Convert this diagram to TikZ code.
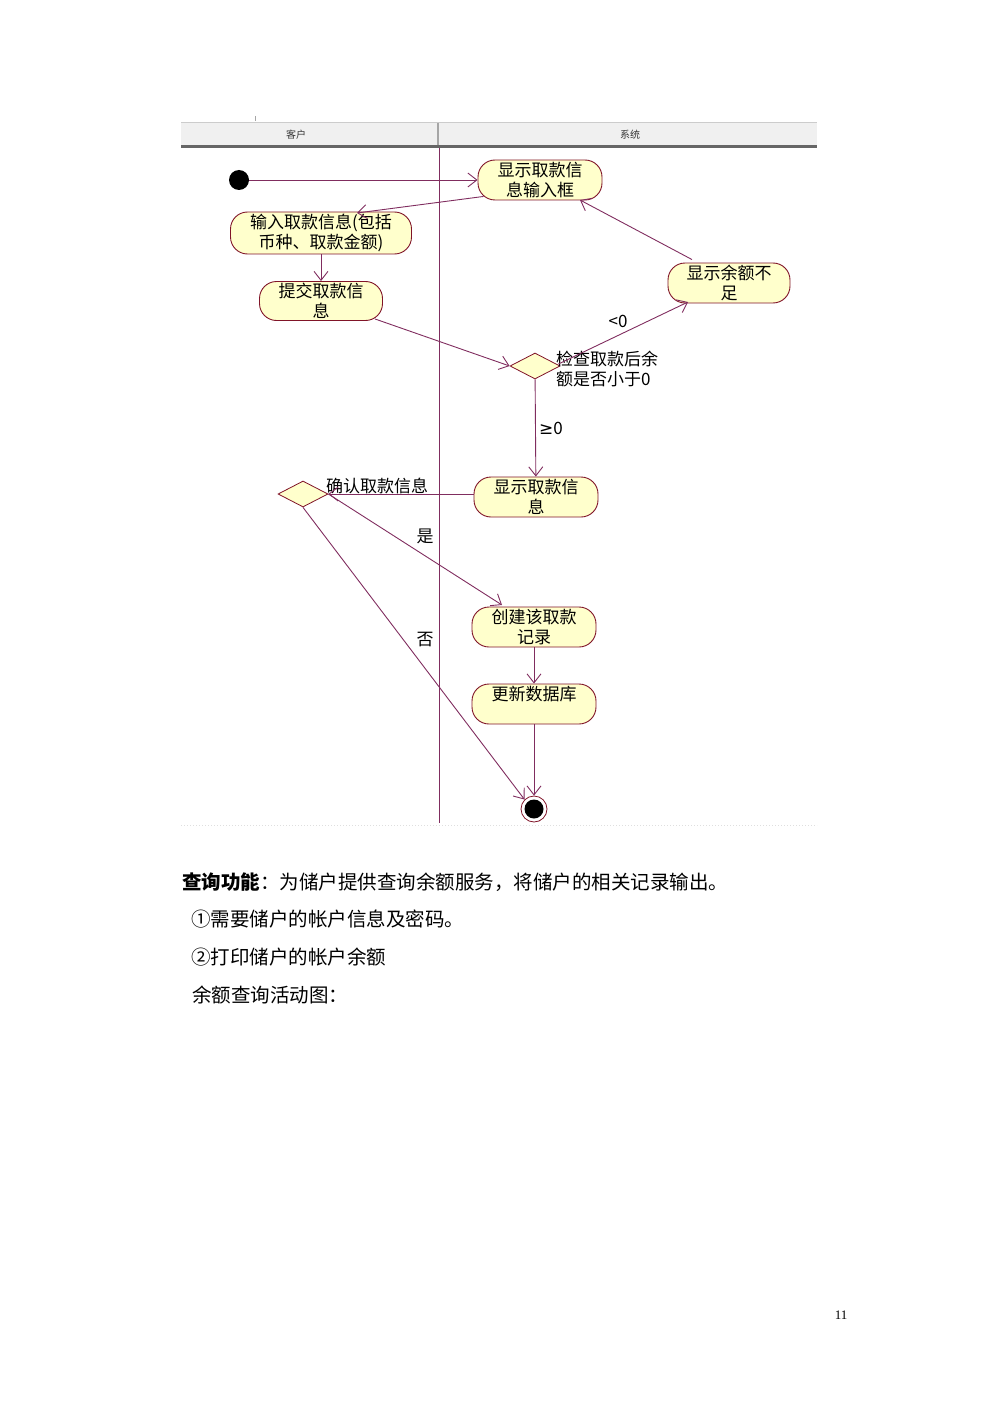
\documentclass[tikz,border=0pt]{standalone}
\usepackage{fontspec}
\setmainfont{Liberation Serif}
\newfontfamily\cjk{Noto Sans CJK SC}
\newfontfamily\dejavu{DejaVu Sans}
\usetikzlibrary{arrows.meta,shapes.geometric}
\definecolor{lnc}{RGB}{128,45,95}
\definecolor{bdc}{RGB}{128,20,40}
\definecolor{flc}{RGB}{255,255,204}
\definecolor{hdr}{RGB}{240,240,240}
\tikzset{
  act/.style={draw=bdc, fill=flc, line width=0.9pt, rounded corners=17pt,
    minimum width=124pt, minimum height=40pt, inner sep=0pt, align=center,
    font=\cjk\fontsize{17}{20}\selectfont},
  dec/.style={draw=bdc, fill=flc, line width=0.8pt, diamond, minimum width=50pt,
    minimum height=26pt, inner sep=0pt, aspect=2},
  flow/.style={draw=lnc, line width=0.9pt, -{Straight Barb[length=9pt,width=14pt,line width=0.9pt]}},
  lbl/.style={font=\cjk\fontsize{17}{20}\selectfont, inner sep=0pt, align=left},
  body/.style={font=\cjk\fontsize{19.5}{22}\selectfont, inner sep=0pt, anchor=west},
}
\begin{document}
\begin{tikzpicture}[x=1pt,y=-1pt]
\useasboundingbox (0,0) rectangle (1000,1415);
% header
\fill[hdr] (181,122) rectangle (817,145);
\draw[gray!40, line width=1.5pt] (181,122.5) -- (817,122.5);
\draw[gray!80!black, line width=3.5pt] (181,146.5) -- (817,146.5);
\draw[gray!70, line width=0.6pt] (255,116) -- (255,121);
\draw[gray!70, line width=1.5pt] (438,123) -- (438,145);
\node[font=\cjk\fontsize{10}{11}\selectfont, text=black!80] (h1) at (296,135) {客户};
\node[font=\cjk\fontsize{10}{11}\selectfont, text=black!80] (h2) at (630,135) {系统};
% swimlane divider
\draw[lnc, line width=0.9pt] (439,148) -- (439,823);
\draw[gray!25, line width=1pt, dotted] (181,825) -- (817,825);

% nodes
\node[circle, fill=black, minimum size=20pt, inner sep=0pt] (start) at (239,180) {};
\node[act] (a1) at (540,180) {显示取款信\\息输入框};
\node[act, minimum width=181pt, minimum height=42pt] (a2) at (321,233) {输入取款信息(包括\\币种、取款金额)};
\node[act, minimum width=123pt, minimum height=39pt] (a3) at (321,301) {提交取款信\\息};
\node[dec] (d1) at (535,366) {};
\node[act, minimum width=122pt] (a4) at (729,283) {显示余额不\\足};
\node[act] (a5) at (536,497) {显示取款信\\息};
\node[dec] (d2) at (303,494) {};
\node[act] (a6) at (534,627) {创建该取款\\记录};
\node[act] (a7) at (534,704) {更新数据库\\\phantom{库}};
\node[circle, draw=bdc, fill=white, line width=0.8pt, minimum size=26pt, inner sep=0pt] (end) at (534,809) {};
\node[circle, fill=black, minimum size=19pt, inner sep=0pt] (endin) at (534,809) {};

% labels
\node[lbl, anchor=west] (l1) at (556,369) {检查取款后余\\额是否小于0};
\node[lbl] (l2) at (618,321) {<0};
\node[lbl] (l3) at (551,428) {{\dejavu ≥}0};
\node[lbl] (l4) at (377,486) {确认取款信息};
\node[lbl] (l5) at (425,536) {是};
\node[lbl] (l6) at (425,640) {否};

% flows
\draw[flow] (start) -- (a1.west);
\draw[flow] (a1.south west) ++(6,-4) coordinate (c1) (c1) -- (357,213) coordinate (c2);
\draw[flow] (a2) -- (a3);
\draw[flow] (a3.south east) ++(-8,-2) coordinate (c3) (c3) -- (d1.west);
\draw[flow] (d1.east) ++(-2,-2) coordinate (c4) (c4) -- (688,302) coordinate (c5);
\draw[flow] (a4.north) ++(-37,-3) coordinate (c6) (c6) -- (580,200) coordinate (c7);
\draw[flow] (d1) -- (a5);
\draw[flow] (a5.west |- d2.east) -- (d2.east);
\draw[flow] (d2.east) -- (502,605) coordinate (c8);
\draw[flow] (a6) -- (a7);
\draw[flow] (a7) -- (end);
\draw[flow] (d2.south) -- (end.north west);

% text below
\node[body] (t1) at (182,882) {\textbf{查询功能}：为储户提供查询余额服务，将储户的相关记录输出。};
\node[body] (t2) at (191,919) {①需要储户的帐户信息及密码。};
\node[body] (t3) at (191,957) {②打印储户的帐户余额};
\node[body] (t4) at (192,995) {余额查询活动图：};
\node[font=\fontsize{13}{15}\selectfont, inner sep=0pt] (pg) at (841,1315) {11};
\end{tikzpicture}
\end{document}
